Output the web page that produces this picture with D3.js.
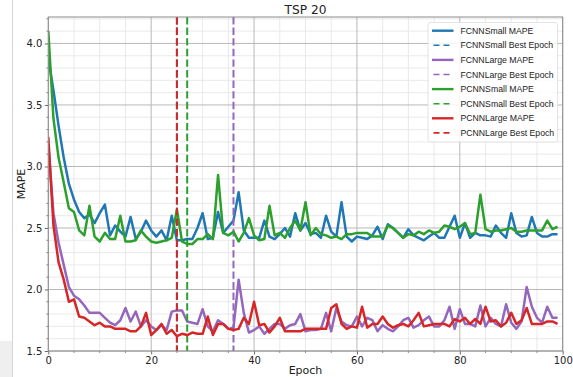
<!DOCTYPE html>
<html>
<head>
<meta charset="utf-8">
<script src="https://cdn.jsdelivr.net/npm/d3@7"></script>
<style>
  html, body { margin: 0; padding: 0; background: #fff; }
  svg { display: block; }
</style>
</head>
<body>
<svg id="chart" width="573" height="377"></svg>
<script>
// ---------- data ----------
const epochCount = 100;
const fcnnSmallMape = [3.88,3.62,3.33,3.07,2.86,2.73,2.63,2.58,2.61,2.54,2.62,2.69,2.44,2.52,2.47,2.43,2.59,2.41,2.47,2.56,
  2.48,2.43,2.48,2.40,2.60,2.40,2.40,2.41,2.41,2.50,2.62,2.41,2.42,2.63,2.46,2.51,2.56,2.79,2.48,2.42,
  2.42,2.42,2.56,2.43,2.41,2.45,2.50,2.43,2.62,2.48,2.54,2.45,2.46,2.42,2.60,2.47,2.43,2.71,2.43,2.39,
  2.43,2.42,2.41,2.44,2.51,2.41,2.53,2.50,2.46,2.42,2.49,2.44,2.42,2.40,2.43,2.46,2.42,2.42,2.51,2.60,
  2.42,2.54,2.42,2.46,2.44,2.44,2.43,2.52,2.46,2.42,2.62,2.46,2.43,2.44,2.59,2.46,2.43,2.43,2.45,2.45];
const fcnnLargeMape = [3.18,2.62,2.38,2.20,2.02,1.95,1.92,1.87,1.81,1.81,1.81,1.77,1.73,1.71,1.75,1.85,1.74,1.82,1.70,1.75,
  1.70,1.67,1.71,1.67,1.82,1.83,1.83,1.74,1.73,1.72,1.84,1.70,1.66,1.75,1.72,1.68,1.69,2.08,1.81,1.65,
  1.67,1.70,1.64,1.68,1.72,1.72,1.68,1.71,1.72,1.80,1.66,1.67,1.67,1.68,1.81,1.66,1.85,1.74,1.71,1.70,
  1.78,1.70,1.77,1.75,1.66,1.71,1.68,1.66,1.70,1.75,1.77,1.69,1.71,1.75,1.78,1.70,1.70,1.75,1.86,1.68,
  1.84,1.72,1.72,1.70,1.87,1.70,1.77,1.72,1.70,1.88,1.73,1.68,1.74,2.02,1.86,1.77,1.73,1.86,1.77,1.77];
const pcnnSmallMape = [4.10,3.39,3.07,2.87,2.66,2.63,2.48,2.44,2.68,2.43,2.39,2.46,2.41,2.41,2.60,2.39,2.39,2.40,2.48,2.43,
  2.39,2.38,2.39,2.40,2.42,2.65,2.39,2.37,2.37,2.41,2.41,2.45,2.41,2.93,2.46,2.44,2.47,2.39,2.46,2.58,
  2.44,2.40,2.41,2.68,2.44,2.46,2.42,2.50,2.56,2.48,2.71,2.44,2.50,2.45,2.44,2.42,2.43,2.41,2.45,2.45,
  2.46,2.46,2.46,2.43,2.43,2.43,2.52,2.50,2.46,2.42,2.45,2.44,2.47,2.45,2.48,2.46,2.47,2.52,2.51,2.49,
  2.51,2.54,2.45,2.46,2.77,2.49,2.47,2.48,2.48,2.49,2.50,2.47,2.47,2.48,2.48,2.48,2.48,2.56,2.49,2.51];
const pcnnLargeMape = [3.24,2.52,2.22,2.08,1.90,1.92,1.78,1.77,1.74,1.71,1.73,1.70,1.70,1.68,1.68,1.68,1.66,1.66,1.70,1.81,
  1.63,1.67,1.72,1.64,1.67,1.62,1.64,1.63,1.65,1.64,1.64,1.78,1.63,1.72,1.72,1.68,1.67,1.68,1.77,1.72,
  1.90,1.71,1.72,1.65,1.70,1.77,1.66,1.66,1.66,1.66,1.68,1.68,1.68,1.68,1.68,1.85,1.88,1.72,1.68,1.70,
  1.69,1.86,1.69,1.72,1.72,1.78,1.72,1.69,1.71,1.72,1.70,1.75,1.81,1.70,1.71,1.72,1.72,1.72,1.70,1.76,
  1.74,1.77,1.72,1.76,1.72,1.86,1.74,1.75,1.70,1.73,1.81,1.72,1.75,1.85,1.72,1.72,1.72,1.74,1.74,1.72];
const seriesNames = ["FCNNSmall", "FCNNLarge", "PCNNSmall", "PCNNLarge"];
const seriesValues = [fcnnSmallMape, fcnnLargeMape, pcnnSmallMape, pcnnLargeMape];
const bestEpochs = [25, 36, 27, 25];
const seriesColors = ["#1f77b4", "#9467bd", "#2ca02c", "#d62728"];
const xTicks = [0, 20, 40, 60, 80, 100];
const yTicks = [1.5, 2.0, 2.5, 3.0, 3.5, 4.0];
const xDomain = [0, 100];
const yDomain = [1.5, 4.215];
const titleText = "TSP 20";
const xLabel = "Epoch";
const yLabel = "MAPE";

// ---------- layout ----------
const svg = d3.select("#chart");
const L = 48.3, R = 562.7, T = 17, B = 351;
const x = d3.scaleLinear().domain(xDomain).range([L, R]);
const y = d3.scaleLinear().domain(yDomain).range([B, T]);

// screenshot artefacts
svg.append("rect").attr("x", 0).attr("y", 341).attr("width", 12).attr("height", 36).attr("fill", "#efefef");
svg.append("line").attr("x1", 12.5).attr("x2", 12.5).attr("y1", 0).attr("y2", 377)
  .attr("stroke", "#d4d4d4").attr("stroke-width", 1);

const g = svg.append("g");

// minor grid
const xMinor = d3.range(0, 100.01, 5).filter(v => v % 20 !== 0);
const yMinor = d3.range(1.6, 4.21, 0.1).map(v => +v.toFixed(1)).filter(v => Math.abs(v*2 - Math.round(v*2)) > 1e-6);
g.append("g").selectAll("line").data(xMinor).join("line")
  .attr("x1", d => x(d)).attr("x2", d => x(d)).attr("y1", T).attr("y2", B)
  .attr("stroke", "#e6e6e6").attr("stroke-width", 0.9);
g.append("g").selectAll("line").data(yMinor).join("line")
  .attr("x1", L).attr("x2", R).attr("y1", d => y(d)).attr("y2", d => y(d))
  .attr("stroke", "#e6e6e6").attr("stroke-width", 0.9);
// major grid
g.append("g").selectAll("line").data(xTicks).join("line")
  .attr("x1", d => x(d)).attr("x2", d => x(d)).attr("y1", T).attr("y2", B)
  .attr("stroke", "#b8b8b8").attr("stroke-width", 1);
g.append("g").selectAll("line").data(yTicks).join("line")
  .attr("x1", L).attr("x2", R).attr("y1", d => y(d)).attr("y2", d => y(d))
  .attr("stroke", "#b8b8b8").attr("stroke-width", 1);

// axes
const xAxis = d3.axisBottom(x).tickValues(xTicks).tickFormat(d3.format("d")).tickSize(3.5).tickPadding(2.5);
const yAxis = d3.axisLeft(y).tickValues(yTicks).tickFormat(d3.format(".1f")).tickSize(3.5).tickPadding(2.5);
const gx = svg.append("g").attr("transform", `translate(0,${B})`).call(xAxis);
const gy = svg.append("g").attr("transform", `translate(${L},0)`).call(yAxis);
[gx, gy].forEach(a => {
  a.select(".domain").remove();
  a.selectAll(".tick line").attr("stroke", "#444").attr("stroke-width", 0.8);
  a.selectAll(".tick text").attr("fill", "#222").style("font-family", "DejaVu Sans").style("font-size", "10px");
});
// minor ticks
svg.append("g").selectAll("line").data(yMinor).join("line")
  .attr("x1", L - 2).attr("x2", L).attr("y1", d => y(d)).attr("y2", d => y(d))
  .attr("stroke", "#444").attr("stroke-width", 0.6);
svg.append("g").selectAll("line").data(xMinor).join("line")
  .attr("x1", d => x(d)).attr("x2", d => x(d)).attr("y1", B).attr("y2", B + 2)
  .attr("stroke", "#444").attr("stroke-width", 0.6);

// clip
svg.append("clipPath").attr("id", "clip").append("rect")
  .attr("x", L).attr("y", T).attr("width", R - L).attr("height", B - T);
const plot = svg.append("g").attr("clip-path", "url(#clip)");

const line = d3.line().x((d, i) => x(i)).y(d => y(d));
seriesValues.forEach((vals, k) => {
  plot.append("path").datum(vals.slice(0, epochCount))
    .attr("d", line).attr("fill", "none")
    .attr("stroke", seriesColors[k]).attr("stroke-width", 2.5)
    .attr("stroke-linejoin", "round");
  plot.append("line")
    .attr("x1", x(bestEpochs[k])).attr("x2", x(bestEpochs[k]))
    .attr("y1", T).attr("y2", B)
    .attr("stroke", seriesColors[k]).attr("stroke-width", 2)
    .attr("stroke-dasharray", "7.4,3.2");
});

// spines
svg.append("rect").attr("x", L).attr("y", T).attr("width", R - L).attr("height", B - T)
  .attr("fill", "none").attr("stroke", "#8c8c8c").attr("stroke-width", 1);

// title and labels
svg.append("text").attr("x", (L + R) / 2).attr("y", 13.5).attr("text-anchor", "middle")
  .style("font-family", "DejaVu Sans").style("font-size", "12.2px").attr("fill", "#222").text(titleText);
svg.append("text").attr("x", (L + R) / 2).attr("y", 374.3).attr("text-anchor", "middle")
  .style("font-family", "DejaVu Sans").style("font-size", "11px").attr("fill", "#222").text(xLabel);
svg.append("text").attr("transform", `translate(25,${(T + B) / 2}) rotate(-90)`).attr("text-anchor", "middle")
  .style("font-family", "DejaVu Sans").style("font-size", "11px").attr("fill", "#222").text(yLabel);

// legend
const lg = svg.append("g");
lg.append("rect").attr("x", 428).attr("y", 22.5).attr("width", 129.5).attr("height", 119.5)
  .attr("rx", 2.5).attr("fill", "#fff").attr("fill-opacity", 0.85)
  .attr("stroke", "#dcdcdc").attr("stroke-width", 0.8);
const legendItems = [];
seriesNames.forEach((n, k) => {
  legendItems.push({ label: n + " MAPE", color: seriesColors[k], dash: null });
  legendItems.push({ label: n + " Best Epoch", color: seriesColors[k], dash: "6,4" });
});
legendItems.forEach((it, i) => {
  const cy = 30.7 + i * 14.6;
  lg.append("line").attr("x1", 432).attr("x2", 453.5).attr("y1", cy).attr("y2", cy)
    .attr("stroke", it.color).attr("stroke-width", it.dash ? 1.6 : 2.4)
    .attr("stroke-dasharray", it.dash)
    .attr("stroke-dashoffset", it.dash ? -1.5 : null);
  lg.append("text").attr("x", 460.5).attr("y", cy + 3.1)
    .style("font-family", "Liberation Sans, Arial, sans-serif").style("font-size", "8.7px")
    .attr("fill", "#222").text(it.label);
});
</script>
</body>
</html>
